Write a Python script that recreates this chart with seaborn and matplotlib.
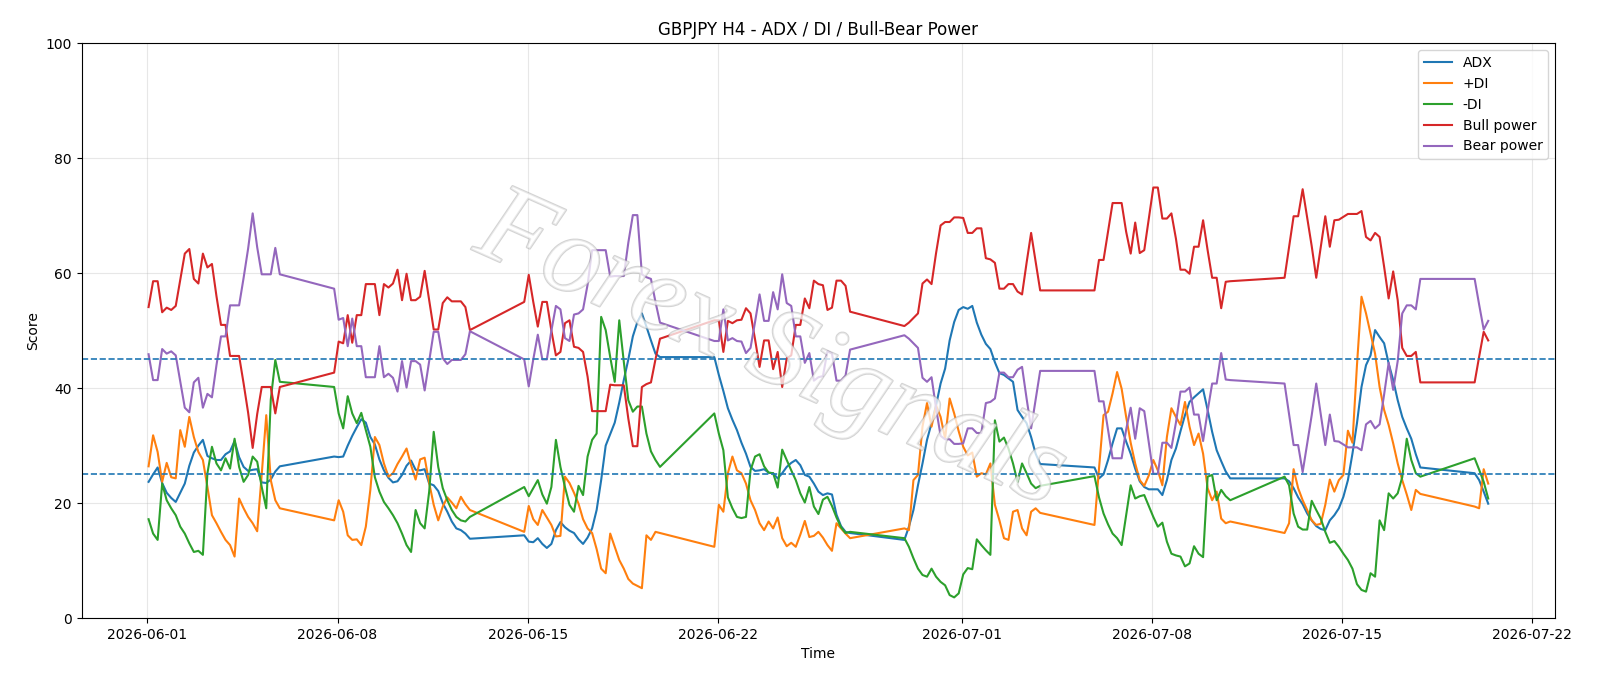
import pandas as pd
import matplotlib
matplotlib.use("Agg")
import matplotlib.pyplot as plt
import matplotlib.patheffects as pe
import seaborn as sns

# H4 bars, weekend gap from Fri 21:00 to Sun 21:00
bar_times = pd.date_range("2026-06-01 01:00", "2026-07-20 09:00", freq="4h")
weekend = (bar_times.dayofweek == 5) | ((bar_times.dayofweek == 6) & (bar_times.hour < 21))
bar_times = bar_times[~weekend]

# one row per trading week
adx = [
    23.7, 25.0, 26.2, 23.5, 21.8, 20.9, 20.2, 21.8, 23.4, 26.5, 28.8, 30.0, 31.0, 28.2, 27.8, 27.5, 27.5, 28.5, 29.0, 30.8, 28.0, 26.3, 25.6, 25.8, 25.9, 23.6, 23.5, 24.1, 25.5, 26.4,
    28.1, 28.0, 28.1, 30.0, 31.7, 33.2, 34.6, 34.0, 31.5, 30.2, 27.6, 25.7, 24.4, 23.6, 23.8, 24.9, 26.5, 27.4, 25.8, 25.7, 25.9, 23.4, 23.1, 22.1, 20.0, 18.5, 16.8, 15.6, 15.3, 14.7, 13.8,
    14.4, 13.3, 13.2, 13.9, 12.9, 12.2, 12.9, 15.3, 16.7, 15.8, 15.2, 14.8, 13.7, 12.9, 14.0, 15.6, 18.8, 24.0, 30.0, 32.0, 34.0, 37.5, 41.4, 45.0, 49.0, 51.5, 53.0, 50.7, 48.3, 46.0, 45.4,
    45.4, 42.3, 39.5, 36.5, 34.5, 32.7, 30.5, 28.6, 26.3, 25.6, 25.7, 25.9, 25.3, 25.2, 24.3, 25.2, 26.3, 27.0, 27.5, 26.6, 24.9, 24.6, 23.4, 22.0, 21.4, 21.7, 21.5, 18.0, 16.0, 15.0, 14.8,
    13.6, 15.9, 18.8, 23.1, 26.9, 31.0, 33.9, 37.0, 40.8, 43.4, 48.3, 51.5, 53.6, 54.1, 53.8, 54.3, 51.4, 49.3, 47.7, 46.8, 44.5, 42.6, 42.3, 41.7, 41.1, 36.2, 35.0, 33.9, 31.5, 28.6, 26.8,
    26.2, 24.3, 25.0, 27.5, 30.4, 33.0, 33.0, 30.7, 28.6, 26.0, 23.8, 22.8, 22.4, 22.4, 22.4, 21.4, 24.0, 27.5, 29.5, 32.5, 35.3, 37.6, 38.4, 39.1, 39.8, 36.2, 32.4, 29.2, 27.3, 25.5, 24.3,
    24.3, 23.8, 22.6, 21.0, 19.8, 18.2, 17.0, 16.0, 15.5, 15.3, 17.0, 17.9, 19.1, 21.1, 24.0, 28.6, 33.9, 40.2, 44.0, 45.7, 50.1, 48.9, 47.8, 44.3, 41.4, 37.9, 35.0, 33.0, 31.2, 28.5, 26.2,
    25.2, 24.0, 22.0, 19.9,
]
plus_di = [
    26.4, 31.8, 28.9, 23.7, 27.0, 24.5, 24.3, 32.7, 29.8, 35.0, 31.5, 28.9, 27.5, 22.8, 17.9, 16.5, 15.0, 13.6, 12.7, 10.7, 20.8, 19.1, 17.6, 16.5, 15.1, 25.0, 35.3, 24.0, 20.5, 19.1,
    17.0, 20.5, 18.5, 14.4, 13.6, 13.7, 12.7, 15.9, 22.3, 31.5, 30.1, 26.9, 24.6, 25.2, 26.8, 28.1, 29.5, 26.6, 24.1, 27.6, 27.9, 23.5, 19.7, 17.0, 19.4, 21.0, 20.1, 19.1, 21.1, 19.8, 18.8,
    15.0, 19.5, 17.2, 16.2, 18.8, 17.5, 16.2, 14.2, 14.3, 24.6, 23.5, 21.8, 19.9, 17.2, 15.6, 14.8, 12.0, 8.6, 7.8, 14.7, 12.4, 10.1, 8.6, 6.8, 6.0, 5.6, 5.2, 14.4, 13.6, 15.0, 14.8,
    12.4, 19.7, 18.5, 25.2, 28.1, 25.7, 25.2, 23.4, 20.5, 18.8, 16.5, 15.3, 16.8, 15.6, 17.5, 13.9, 12.5, 13.1, 12.4, 14.5, 16.9, 14.1, 14.3, 15.0, 14.0, 12.7, 11.7, 16.5, 15.6, 14.7, 13.9,
    15.6, 15.3, 24.0, 24.9, 33.3, 37.4, 33.3, 37.0, 35.0, 31.2, 38.2, 35.6, 32.5, 29.8, 28.3, 28.8, 24.6, 25.2, 25.0, 26.9, 19.7, 17.0, 13.9, 13.6, 18.5, 18.8, 15.6, 14.4, 18.5, 19.1, 18.3,
    16.2, 26.0, 35.3, 35.9, 39.1, 42.8, 39.9, 35.0, 30.5, 26.9, 24.0, 23.0, 24.8, 27.5, 25.7, 23.1, 31.5, 36.5, 35.0, 33.6, 37.6, 33.3, 30.1, 32.1, 28.6, 22.6, 20.5, 22.0, 17.3, 16.5, 16.8,
    14.8, 16.5, 25.9, 22.6, 20.5, 18.8, 17.0, 16.2, 16.4, 19.7, 24.1, 22.0, 24.0, 24.9, 32.6, 30.5, 44.0, 55.9, 53.0, 49.5, 46.0, 40.2, 36.2, 33.6, 30.4, 26.9, 24.0, 21.5, 18.8, 22.3, 21.6,
    19.4, 19.1, 25.9, 23.4,
]
minus_di = [
    17.2, 14.7, 13.6, 23.4, 20.5, 19.1, 17.9, 15.9, 14.7, 13.0, 11.5, 11.7, 11.0, 25.2, 29.8, 26.9, 25.7, 27.8, 26.0, 31.2, 26.3, 23.7, 24.9, 28.1, 27.2, 22.8, 19.1, 38.0, 44.9, 41.1,
    40.2, 35.6, 33.0, 38.6, 35.6, 33.9, 35.7, 32.7, 29.8, 24.5, 22.0, 20.2, 19.1, 17.9, 16.5, 14.7, 12.7, 11.5, 18.8, 16.5, 15.6, 22.0, 32.4, 26.3, 22.6, 20.5, 18.8, 17.6, 17.0, 16.8, 17.6,
    22.8, 21.2, 22.6, 24.0, 21.5, 19.9, 22.8, 31.0, 26.3, 22.8, 19.7, 18.5, 23.0, 21.4, 28.1, 31.0, 32.1, 52.4, 50.1, 45.4, 41.1, 51.8, 44.6, 37.9, 35.9, 36.8, 36.8, 32.1, 29.0, 27.5, 26.3,
    35.6, 32.1, 29.2, 21.0, 19.1, 17.6, 17.4, 17.6, 25.7, 28.1, 28.5, 26.4, 25.3, 25.2, 22.7, 29.3, 27.5, 25.7, 24.0, 21.7, 20.1, 22.8, 19.4, 18.1, 20.6, 21.1, 19.5, 17.5, 15.8, 14.8, 15.0,
    13.9, 12.4, 10.4, 8.6, 7.5, 7.2, 8.6, 7.2, 6.3, 5.7, 4.0, 3.6, 4.3, 7.6, 8.7, 8.5, 13.7, 12.7, 11.8, 11.0, 34.4, 30.7, 31.4, 29.5, 26.9, 23.7, 26.9, 25.2, 23.4, 22.6, 23.0,
    24.7, 21.0, 18.2, 16.3, 14.7, 13.9, 12.7, 17.9, 23.1, 20.8, 21.2, 21.4, 19.5, 17.6, 15.9, 16.6, 13.3, 11.2, 10.9, 10.7, 9.0, 9.5, 12.5, 11.2, 10.6, 24.6, 24.9, 20.5, 22.3, 21.2, 20.5,
    24.6, 23.1, 18.2, 15.9, 15.4, 15.4, 20.4, 18.8, 17.3, 15.0, 13.1, 13.4, 12.4, 11.2, 10.1, 8.6, 5.9, 4.9, 4.6, 7.8, 7.2, 17.0, 15.3, 21.7, 20.8, 21.7, 24.5, 31.2, 27.5, 25.2, 24.6,
    27.8, 25.8, 23.7, 20.8,
]
bull_power = [
    54.1, 58.6, 58.6, 53.2, 54.0, 53.6, 54.3, 58.8, 63.4, 64.2, 59.0, 58.2, 63.4, 61.0, 61.6, 56.0, 51.0, 51.0, 45.6, 45.6, 45.6, 40.8, 35.7, 29.6, 35.5, 40.2, 40.2, 40.2, 35.6, 40.2,
    42.7, 48.1, 47.8, 52.7, 47.9, 52.7, 52.7, 58.1, 58.1, 58.1, 52.7, 58.1, 57.5, 58.2, 60.6, 55.3, 59.9, 55.3, 55.3, 55.9, 60.4, 55.3, 50.2, 50.2, 54.8, 55.8, 55.1, 55.1, 55.1, 54.1, 50.1,
    55.0, 59.7, 55.0, 50.7, 55.0, 55.0, 50.0, 45.7, 46.3, 51.3, 51.8, 47.2, 47.0, 46.3, 42.0, 36.0, 36.0, 36.0, 36.0, 40.6, 40.5, 40.5, 40.5, 34.7, 29.9, 29.9, 40.2, 40.7, 41.0, 45.0, 48.6,
    51.8, 51.8, 46.3, 51.7, 51.3, 51.8, 51.9, 53.9, 53.0, 48.5, 43.7, 48.3, 48.3, 43.3, 46.3, 40.2, 45.2, 45.7, 51.0, 51.0, 55.6, 53.9, 58.7, 58.1, 57.9, 53.6, 54.0, 58.7, 58.7, 57.8, 53.3,
    50.8, 51.4, 52.2, 53.0, 58.2, 58.9, 58.1, 63.5, 68.3, 68.9, 68.9, 69.7, 69.7, 69.6, 67.0, 67.0, 67.8, 67.8, 62.6, 62.4, 61.8, 57.3, 57.3, 58.1, 58.1, 56.8, 56.3, 61.8, 67.0, 62.0, 57.0,
    57.0, 62.3, 62.3, 67.3, 72.2, 72.2, 72.2, 67.2, 63.4, 68.8, 63.5, 64.0, 69.4, 74.9, 74.9, 69.5, 69.5, 70.4, 66.0, 60.6, 60.6, 59.9, 64.6, 64.6, 69.2, 64.0, 59.2, 59.2, 53.9, 58.5, 58.6,
    59.2, 64.6, 69.9, 69.9, 74.6, 69.6, 64.7, 59.2, 64.6, 69.9, 64.6, 69.2, 69.3, 69.8, 70.3, 70.3, 70.3, 70.8, 66.3, 65.7, 67.0, 66.3, 61.1, 55.6, 60.3, 55.3, 47.0, 45.6, 45.6, 46.3, 41.0,
    41.0, 45.5, 49.8, 48.3,
]
bear_power = [
    45.9, 41.4, 41.4, 46.8, 46.0, 46.4, 45.7, 41.2, 36.6, 35.8, 41.0, 41.8, 36.6, 39.0, 38.4, 44.0, 49.0, 49.0, 54.4, 54.4, 54.4, 59.2, 64.3, 70.4, 64.5, 59.8, 59.8, 59.8, 64.4, 59.8,
    57.3, 51.9, 52.2, 47.3, 52.1, 47.3, 47.3, 41.9, 41.9, 41.9, 47.3, 41.9, 42.5, 41.8, 39.4, 44.7, 40.1, 44.7, 44.7, 44.1, 39.6, 44.7, 49.8, 49.8, 45.2, 44.2, 44.9, 44.9, 44.9, 45.9, 49.9,
    45.0, 40.3, 45.0, 49.3, 45.0, 45.0, 50.0, 54.3, 53.7, 48.7, 48.2, 52.8, 53.0, 53.7, 58.0, 64.0, 64.0, 64.0, 64.0, 59.4, 59.5, 59.5, 59.5, 65.3, 70.1, 70.1, 59.8, 59.3, 59.0, 55.0, 51.4,
    48.2, 48.2, 53.7, 48.3, 48.7, 48.2, 48.1, 46.1, 47.0, 51.5, 56.3, 51.7, 51.7, 56.7, 53.7, 59.8, 54.8, 54.3, 49.0, 49.0, 44.4, 46.1, 41.3, 41.9, 42.1, 46.4, 46.0, 41.3, 41.3, 42.2, 46.7,
    49.2, 48.6, 47.8, 47.0, 41.8, 41.1, 41.9, 36.5, 31.7, 31.1, 31.1, 30.3, 30.3, 30.4, 33.0, 33.0, 32.2, 32.2, 37.4, 37.6, 38.2, 42.7, 42.7, 41.9, 41.9, 43.2, 43.7, 38.2, 33.0, 38.0, 43.0,
    43.0, 37.7, 37.7, 32.7, 27.8, 27.8, 27.8, 32.8, 36.6, 31.2, 36.5, 36.0, 30.6, 25.1, 25.1, 30.5, 30.5, 29.6, 34.0, 39.4, 39.4, 40.1, 35.4, 35.4, 30.8, 36.0, 40.8, 40.8, 46.1, 41.5, 41.4,
    40.8, 35.4, 30.1, 30.1, 25.4, 30.4, 35.3, 40.8, 35.4, 30.1, 35.4, 30.8, 30.7, 30.2, 29.7, 29.7, 29.7, 29.2, 33.7, 34.3, 33.0, 33.7, 38.9, 44.4, 39.7, 44.7, 53.0, 54.4, 54.4, 53.7, 59.0,
    59.0, 54.5, 50.2, 51.7,
]

series_names = ["ADX", "+DI", "-DI", "Bull power", "Bear power"]
series_colors = ["tab:blue", "tab:orange", "tab:green", "tab:red", "tab:purple"]
ref_levels = [25, 45]

df = pd.DataFrame({
    "time": bar_times,
    "ADX": adx,
    "+DI": plus_di,
    "-DI": minus_di,
    "Bull power": bull_power,
    "Bear power": bear_power,
})

fig, ax = plt.subplots(figsize=(16, 6.86), dpi=100)

for name, color in zip(series_names, series_colors):
    sns.lineplot(data=df, x="time", y=name, color=color, label=name, linewidth=1.5, ax=ax)

for lvl in ref_levels:
    ax.axhline(lvl, color="tab:blue", linestyle="--", linewidth=1.2)

# watermark: thin, light, hollow lettering
ax.text(0.468, 0.462, "Forex Signals", transform=ax.transAxes, rotation=-24,
        fontsize=82, style="italic", family="Liberation Serif",
        color="white", alpha=0.5, ha="center", va="center", zorder=5,
        path_effects=[pe.withStroke(linewidth=1.5, foreground="#a8a8a8")])

ax.set_ylim(0, 100)
ax.grid(True, alpha=0.3)
ax.set_title("GBPJPY H4 - ADX / DI / Bull-Bear Power")
ax.set_xlabel("Time")
ax.set_ylabel("Score")
ax.legend(loc="upper right")

fig.subplots_adjust(left=0.051, right=0.972, top=0.937, bottom=0.099)
fig.savefig("out.png", dpi=100)
